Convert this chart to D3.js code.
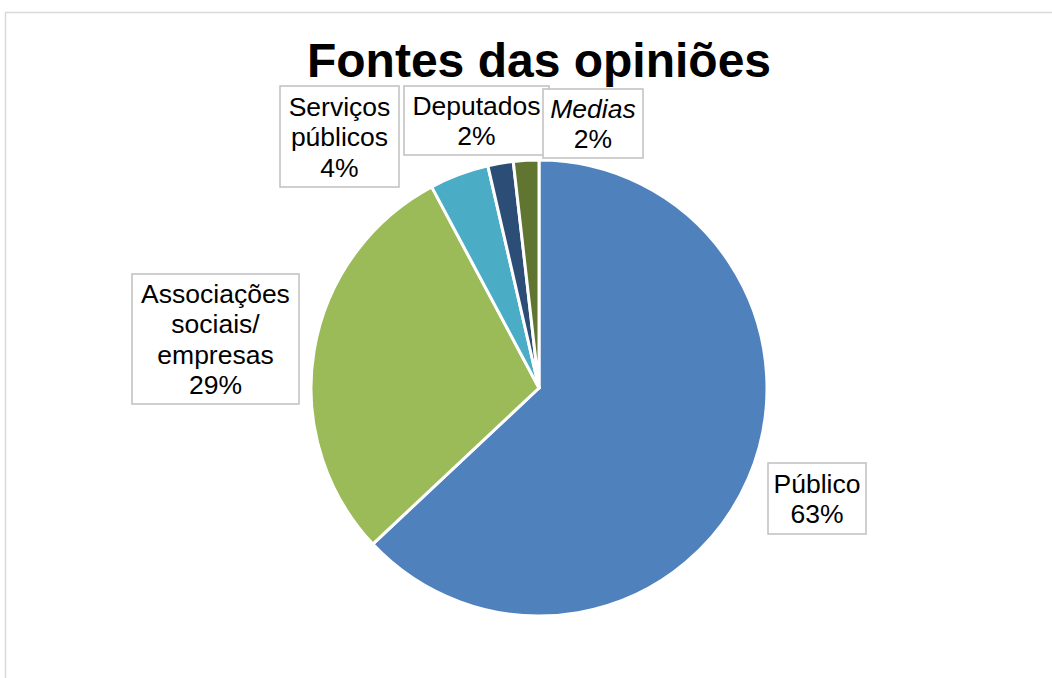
<!DOCTYPE html>
<html>
<head>
<meta charset="utf-8">
<script src="https://cdn.jsdelivr.net/npm/d3@7"></script>
<style>
  html, body { margin: 0; padding: 0; background: #fff; }
  svg { display: block; font-family: "Liberation Sans", Arial, sans-serif; }
</style>
</head>
<body>
<svg id="chart" width="1052" height="678"></svg>
<script>
// ---- data ----
const title = "Fontes das opiniões";
const categories = ["Público", "Associações sociais/ empresas", "Serviços públicos", "Deputados", "Medias"];
const labelLines = [["Público"], ["Associações", "sociais/", "empresas"], ["Serviços", "públicos"], ["Deputados"], ["Medias"]];
const values = [63.0, 29.2, 4.2, 1.8, 1.8];
const percentLabels = ["63%", "29%", "4%", "2%", "2%"];
const italicFlags = [false, false, false, false, true];

// ---- styling / layout (kept apart from data) ----
const colors = ["#4F81BD", "#9BBB59", "#4BACC6", "#2C4D75", "#5F7530"];
const W = 1052, H = 678;
const cx = 539, cy = 388, R = 228;
const fontSize = 26.5, lineH = 30.5;
// label boxes: [x, y, w, h]
const boxes = [
  [768, 463, 98, 71],
  [132, 274, 167, 130],
  [280, 86, 119, 101],
  [404, 86, 145, 69],
  [543, 89, 100, 69]
];

const svg = d3.select("#chart");

// outer chart border (right/bottom off canvas)
svg.append("rect")
  .attr("x", 5.5).attr("y", 12.5)
  .attr("width", 1200).attr("height", 800)
  .attr("fill", "#fff")
  .attr("stroke", "#d9d9d9").attr("stroke-width", 1.5);

// title
svg.append("text")
  .attr("x", 539).attr("y", 77)
  .attr("text-anchor", "middle")
  .attr("font-size", 48).attr("font-weight", "bold")
  .attr("fill", "#000")
  .text(title);

// pie
const pie = d3.pie().sort(null).value(d => d)
  .startAngle(0).endAngle(2 * Math.PI);
const arc = d3.arc().innerRadius(0).outerRadius(R);
const arcsData = pie(values);

const g = svg.append("g").attr("transform", `translate(${cx},${cy})`);
g.selectAll("path")
  .data(arcsData)
  .join("path")
  .attr("d", arc)
  .attr("fill", (d, i) => colors[i])
  .attr("stroke", "#fff")
  .attr("stroke-width", 3)
  .attr("stroke-linejoin", "round");

// labels
const lg = svg.append("g");
arcsData.forEach((d, i) => {
  const [bx, by, bw, bh] = boxes[i];
  lg.append("rect")
    .attr("x", bx).attr("y", by).attr("width", bw).attr("height", bh)
    .attr("fill", "#fff")
    .attr("stroke", "#c0c0c0").attr("stroke-width", 1.5);
  const lines = labelLines[i].concat([percentLabels[i]]);
  const n = lines.length;
  const midY = by + bh / 2;
  const t = lg.append("text")
    .attr("text-anchor", "middle")
    .attr("font-size", fontSize)
    .attr("fill", "#000");
  lines.forEach((ln, k) => {
    t.append("tspan")
      .attr("x", bx + bw / 2)
      .attr("y", midY + (k - (n - 1) / 2) * lineH + fontSize * 0.36)
      .attr("font-style", (italicFlags[i] && k === 0) ? "italic" : "normal")
      .text(ln);
  });
});
</script>
</body>
</html>
